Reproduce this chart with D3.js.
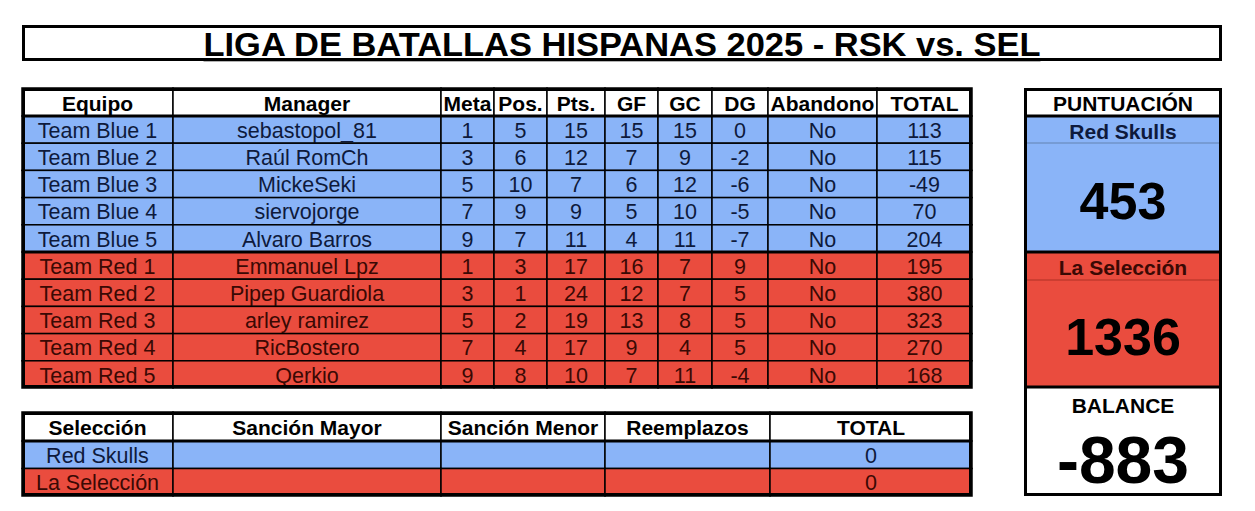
<!DOCTYPE html>
<html><head><meta charset="utf-8">
<script src="https://cdn.jsdelivr.net/npm/d3@7"></script>
<style>
body{margin:0;background:#fff}
svg{display:block}
text{font-family:"Liberation Sans",Arial,Helvetica,sans-serif}
</style>
</head><body><svg id="c" width="1255" height="511"></svg>
<script>
// ---------- data ----------
const title = "LIGA DE BATALLAS HISPANAS 2025 - RSK vs. SEL";
const headers = ["Equipo","Manager","Meta","Pos.","Pts.","GF","GC","DG","Abandono","TOTAL"];
const teams = ["Team Blue 1","Team Blue 2","Team Blue 3","Team Blue 4","Team Blue 5",
               "Team Red 1","Team Red 2","Team Red 3","Team Red 4","Team Red 5"];
const managers = ["sebastopol_81","Raúl RomCh","MickeSeki","siervojorge","Alvaro Barros",
                  "Emmanuel Lpz","Pipep Guardiola","arley ramirez","RicBostero","Qerkio"];
const sides = ["blue","blue","blue","blue","blue","red","red","red","red","red"];
const meta = [1,3,5,7,9,1,3,5,7,9];
const pos = [5,6,10,9,7,3,1,2,4,8];
const pts = [15,12,7,9,11,17,24,19,17,10];
const gf = [15,7,6,5,4,16,12,13,9,7];
const gc = [15,9,12,10,11,7,7,8,4,11];
const dg = [0,-2,-6,-5,-7,9,5,5,5,-4];
const abandono = ["No","No","No","No","No","No","No","No","No","No"];
const totals = [113,115,-49,70,204,195,380,323,270,168];

const penaltyHeaders = ["Selección","Sanción Mayor","Sanción Menor","Reemplazos","TOTAL"];
const selections = ["Red Skulls","La Selección"];
const selSides = ["blue","red"];
const sancionMayor = ["",""];
const sancionMenor = ["",""];
const reemplazos = ["",""];
const penaltyTotals = [0,0];

const scoreHeader = "PUNTUACIÓN";
const scoreLabels = ["Red Skulls","La Selección"];
const scores = [453,1336];
const balanceLabel = "BALANCE";
const balance = -883;

// ---------- style / layout ----------
const fill = {blue:"#8ab4f8", red:"#ea4c3e", white:"#ffffff"};
const ink  = {blue:"#0e1a3c", red:"#3a0904", white:"#000000"};
const FONT_BODY = 21.5, FONT_HEAD = 21;

const svg = d3.select("#c");

// title
svg.append("rect").attr("x",23.5).attr("y",26.5).attr("width",1197).attr("height",33)
  .attr("fill","#fff").attr("stroke","#000").attr("stroke-width",3);
svg.append("text").attr("x",622).attr("y",56).attr("text-anchor","middle")
  .attr("font-size",33).attr("font-weight","bold").attr("text-decoration","underline")
  .attr("textLength",837).attr("lengthAdjust","spacingAndGlyphs")
  .text(title);

function table(colWidths, x0, x1, headerTop, headerBottom, rowBottom, nRows, cellsFor, headerLabels, rowSides, thickAfter){
  const cum = [0]; colWidths.forEach(w=>cum.push(cum[cum.length-1]+w));
  const xs = d3.scaleLinear().domain([0, cum[cum.length-1]]).range([x0, x1]);
  const ys = d3.scaleBand().domain(d3.range(nRows)).range([headerBottom, rowBottom]);
  const g = svg.append("g");
  headerLabels.forEach((h,i)=>{
    g.append("rect").attr("x",xs(cum[i])).attr("y",headerTop).attr("width",xs(cum[i+1])-xs(cum[i]))
      .attr("height",headerBottom-headerTop).attr("fill","#fff").attr("stroke","#000").attr("stroke-width",1.5);
    g.append("text").attr("x",(xs(cum[i])+xs(cum[i+1]))/2).attr("y",(headerTop+headerBottom)/2+1).attr("dy","0.36em")
      .attr("text-anchor","middle").attr("font-size",FONT_HEAD).attr("font-weight","bold").text(h);
  });
  d3.range(nRows).forEach(r=>{
    const cells = cellsFor(r);
    cells.forEach((v,i)=>{
      g.append("rect").attr("x",xs(cum[i])).attr("y",ys(r)).attr("width",xs(cum[i+1])-xs(cum[i]))
        .attr("height",ys.bandwidth()).attr("fill",fill[rowSides[r]]).attr("stroke","#000").attr("stroke-width",1.5);
      g.append("text").attr("x",(xs(cum[i])+xs(cum[i+1]))/2).attr("y",ys(r)+ys.bandwidth()/2+0.5).attr("dy","0.36em")
        .attr("text-anchor","middle").attr("font-size",FONT_BODY).attr("fill",ink[rowSides[r]]).text(v);
    });
  });
  g.append("line").attr("x1",x0).attr("x2",x1).attr("y1",headerBottom).attr("y2",headerBottom).attr("stroke","#000").attr("stroke-width",3);
  thickAfter.forEach(r=>{
    const y = ys(r)+ys.bandwidth();
    g.append("line").attr("x1",x0).attr("x2",x1).attr("y1",y).attr("y2",y).attr("stroke","#000").attr("stroke-width",3);
  });
  g.append("rect").attr("x",x0+1.5).attr("y",headerTop+1.5).attr("width",x1-x0-3).attr("height",rowBottom-headerTop-3)
    .attr("fill","none").attr("stroke","#000").attr("stroke-width",3);
}

table([151,268,53,53,58,53,54,56,109,95], 22, 972, 88, 116, 388, teams.length,
  r=>[teams[r],managers[r],meta[r],pos[r],pts[r],gf[r],gc[r],dg[r],abandono[r],totals[r]],
  headers, sides, [4]);

table([151,268,164,165,202], 22, 972, 412, 441, 496, selections.length,
  r=>[selections[r],sancionMayor[r],sancionMenor[r],reemplazos[r],penaltyTotals[r]],
  penaltyHeaders, selSides, []);

// score panel
const px0 = 1024, px1 = 1222, pcx = (px0+px1)/2;
const panel = svg.append("g");
const blocks = [
  {y0:88, y1:116, f:"white", label:scoreHeader, size:21, dy:1},
  {y0:116, y1:143, f:"blue", label:scoreLabels[0], size:21, dy:2},
  {y0:143, y1:252, f:"blue", label:scores[0], size:52, dy:3},
  {y0:252, y1:280, f:"red", label:scoreLabels[1], size:21, dy:1},
  {y0:280, y1:387, f:"red", label:scores[1], size:52, dy:3},
];
blocks.forEach(b=>{
  panel.append("rect").attr("x",px0).attr("y",b.y0).attr("width",px1-px0).attr("height",b.y1-b.y0).attr("fill",fill[b.f]);
  panel.append("text").attr("x",pcx).attr("y",(b.y0+b.y1)/2+b.dy).attr("dy","0.36em").attr("text-anchor","middle")
    .attr("font-size",b.size).attr("font-weight","bold").attr("fill",b.f==="white"?"#000":(b.size>30?"#000":ink[b.f])).text(b.label);
});
panel.append("line").attr("x1",px0).attr("x2",px1).attr("y1",143).attr("y2",143).attr("stroke","#6f93c8").attr("stroke-width",1.5);
panel.append("line").attr("x1",px0).attr("x2",px1).attr("y1",280).attr("y2",280).attr("stroke","#c23a2e").attr("stroke-width",1.5);
[116,252,387].forEach(y=>panel.append("line").attr("x1",px0).attr("x2",px1).attr("y1",y).attr("y2",y).attr("stroke","#000").attr("stroke-width",3));
panel.append("text").attr("x",pcx).attr("y",405).attr("dy","0.36em").attr("text-anchor","middle")
  .attr("font-size",21).attr("font-weight","bold").text(balanceLabel);
panel.append("text").attr("x",pcx).attr("y",459).attr("dy","0.36em").attr("text-anchor","middle")
  .attr("font-size",66).attr("font-weight","bold").text(balance);
panel.append("rect").attr("x",px0+1.5).attr("y",88+1.5).attr("width",px1-px0-3).attr("height",496-88-3)
  .attr("fill","none").attr("stroke","#000").attr("stroke-width",3);
</script>
</body></html>
